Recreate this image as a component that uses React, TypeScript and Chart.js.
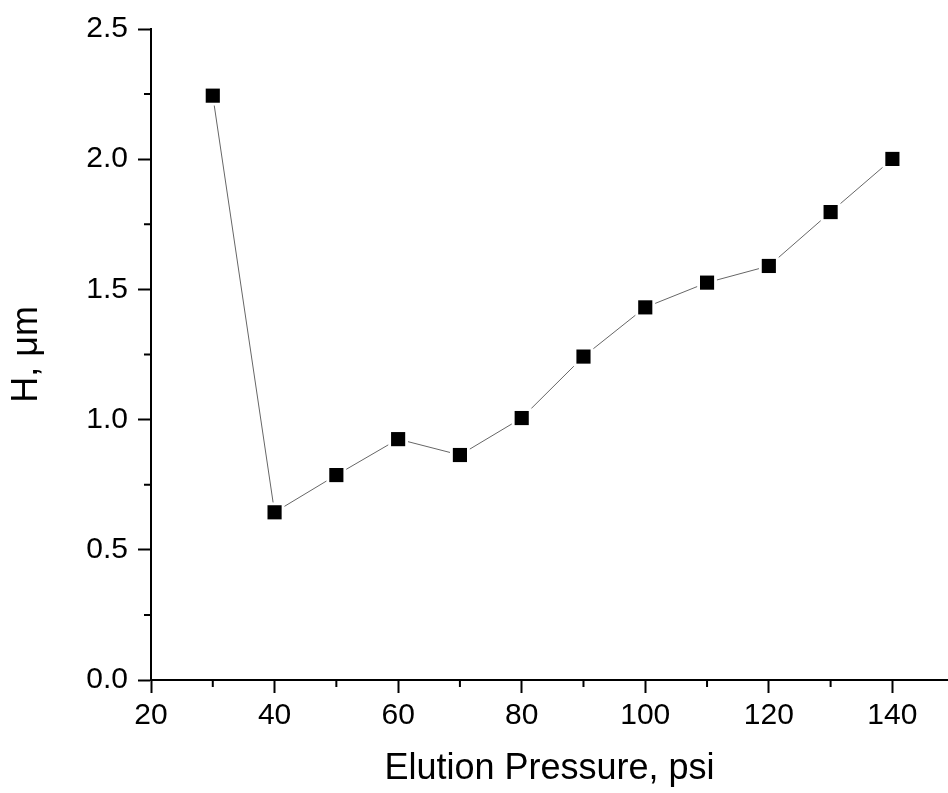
import React, { useEffect, useRef } from "react";
import { Chart, registerables } from "chart.js";

Chart.register(...registerables);

const pressures = [30, 40, 50, 60, 70, 80, 90, 100, 110, 120, 130, 140];
const hValues = [2.244, 0.644, 0.787, 0.925, 0.864, 1.006, 1.242, 1.431, 1.526, 1.59, 1.797, 2.001];
const xMajorTicks = [20, 40, 60, 80, 100, 120, 140];
const xMinorTicks = [30, 50, 70, 90, 110, 130];
const yMajorTicks = [0, 0.5, 1.0, 1.5, 2.0, 2.5];
const yMinorTicks = [0.25, 0.75, 1.25, 1.75, 2.25];

const FONT = "'Liberation Sans', Arial, sans-serif";

const minorTickPlugin = {
  id: "minorTicks",
  afterDraw(chart: any) {
    const { ctx, scales } = chart;
    const xs = scales.x;
    const ys = scales.y;
    ctx.save();
    ctx.strokeStyle = "#000";
    ctx.lineWidth = 2;
    ctx.beginPath();
    xMinorTicks.forEach((v) => {
      const px = xs.getPixelForValue(v);
      ctx.moveTo(px, ys.bottom);
      ctx.lineTo(px, ys.bottom + 7);
    });
    yMinorTicks.forEach((v) => {
      const py = ys.getPixelForValue(v);
      ctx.moveTo(xs.left, py);
      ctx.lineTo(xs.left - 7, py);
    });
    ctx.stroke();
    ctx.restore();
  },
};

export default function App() {
  const ref = useRef<HTMLCanvasElement | null>(null);

  useEffect(() => {
    if (!ref.current) return;
    const pts = pressures.map((x, i) => ({ x, y: hValues[i] }));
    const chart = new Chart(ref.current, {
      type: "scatter",
      data: {
        datasets: [
          {
            data: pts,
            showLine: true,
            borderColor: "#666666",
            borderWidth: 1,
            pointRadius: 0,
            order: 3,
          } as any,
          {
            data: pts,
            showLine: false,
            pointStyle: "rect",
            pointRadius: 14,
            pointBackgroundColor: "#ffffff",
            pointBorderWidth: 0,
            pointBorderColor: "#ffffff",
            order: 2,
          } as any,
          {
            data: pts,
            showLine: false,
            pointStyle: "rect",
            pointRadius: 10,
            pointBackgroundColor: "#000000",
            pointBorderWidth: 0,
            pointBorderColor: "#000000",
            order: 1,
          } as any,
        ],
      },
      options: {
        animation: false,
        responsive: false,
        devicePixelRatio: 1,
        layout: { autoPadding: false, padding: { top: 29, left: 0, right: 0, bottom: 0 } },
        plugins: { legend: { display: false }, tooltip: { enabled: false } },
        scales: {
          x: {
            type: "linear",
            min: 20,
            max: 149,
            afterBuildTicks: (s: any) => {
              s.ticks = xMajorTicks.map((v) => ({ value: v }));
            },
            afterFit: (s: any) => {
              s.height = 113;
              s.paddingLeft = 0;
              s.paddingRight = 0;
            },
            border: { display: true, color: "#000", width: 2 },
            grid: {
              drawOnChartArea: false,
              drawTicks: true,
              tickLength: 13,
              tickWidth: 2,
              tickColor: "#000",
              color: "#000",
            },
            ticks: {
              color: "#000",
              font: { family: FONT, size: 30 },
              padding: 5,
              maxRotation: 0,
              autoSkip: false,
              callback: (v: any) => String(v),
            },
            title: {
              display: true,
              text: "Elution Pressure, psi",
              color: "#000",
              font: { family: FONT, size: 36, weight: "normal" },
              padding: { top: 0, bottom: 2 },
            },
          },
          y: {
            type: "linear",
            min: 0,
            max: 2.5,
            afterBuildTicks: (s: any) => {
              s.ticks = yMajorTicks.map((v) => ({ value: v }));
            },
            afterFit: (s: any) => {
              s.width = 151;
              s.paddingTop = 0;
              s.paddingBottom = 0;
            },
            border: { display: true, color: "#000", width: 2 },
            grid: {
              drawOnChartArea: false,
              drawTicks: true,
              tickLength: 13,
              tickWidth: 2,
              tickColor: "#000",
              color: "#000",
            },
            ticks: {
              color: "#000",
              font: { family: FONT, size: 30 },
              padding: 10,
              autoSkip: false,
              callback: (v: any) => Number(v).toFixed(1),
            },
            title: {
              display: true,
              text: "H, \u03bcm",
              color: "#000",
              font: { family: FONT, size: 36, weight: "normal" },
              padding: { top: 5, bottom: 0 },
            },
          },
        },
      },
      plugins: [minorTickPlugin],
    });
    return () => chart.destroy();
  }, []);

  return (
    <div style={{ position: "fixed", left: 0, top: 0, width: 948, height: 793, background: "#fff" }}>
      <canvas ref={ref} width={948} height={793} style={{ display: "block" }} />
    </div>
  );
}
